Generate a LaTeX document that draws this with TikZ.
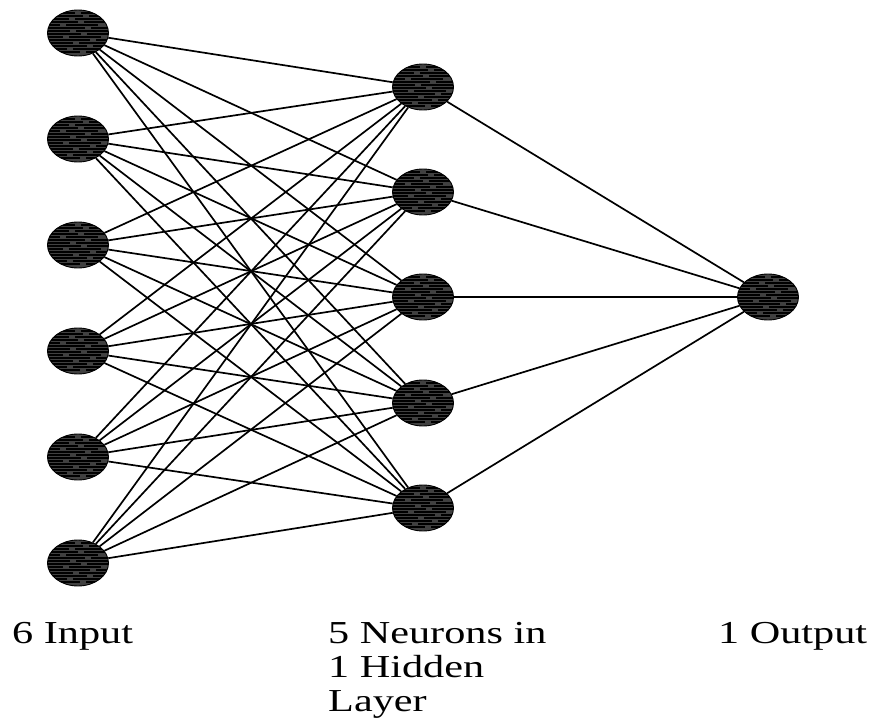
\documentclass[tikz,border=0pt]{standalone}
\usepackage{fontspec}
\setmainfont{Liberation Serif}
\newfontfamily\lblfont[FakeStretch=1.32]{Liberation Serif}
\usetikzlibrary{shapes.geometric}
\tikzset{
  neuron/.style={ellipse, draw=black, line width=0.9pt, fill=black!75,
    minimum width=61pt, minimum height=46pt, inner sep=0pt,
    path picture={
      \foreach \yy/\g in {-19/5,-16/-8,-13/12,-10/-2,-7/15,-4/-12,-1/6,2/-5,5/10,8/-15,11/3,14/-6,17/8,20/0}{
        \draw[black, line width=1.3pt]
          ([xshift=-32pt, yshift=\yy pt]path picture bounding box.center) -- ++(32pt+\g pt-3pt,0pt)
          ([xshift=\g pt+3pt, yshift=\yy pt]path picture bounding box.center) -- ++(32pt,0pt);
      }
    }},
  conn/.style={line width=1.7pt, black},
  lbl/.style={font=\lblfont\fontsize{32}{34}\selectfont, anchor=base west, inner sep=0pt, align=left}
}
\begin{document}
\begin{tikzpicture}[x=1pt,y=-1pt]
\useasboundingbox (0,0) rectangle (870,719);
% input layer
\node[neuron] (i1) at (78,33) {};
\node[neuron] (i2) at (78,139) {};
\node[neuron] (i3) at (78,245) {};
\node[neuron] (i4) at (78,351) {};
\node[neuron] (i5) at (78,457) {};
\node[neuron] (i6) at (78,563) {};
% hidden layer
\node[neuron] (h1) at (423,87) {};
\node[neuron] (h2) at (423,192) {};
\node[neuron] (h3) at (423,297) {};
\node[neuron] (h4) at (423,403) {};
\node[neuron] (h5) at (423,508) {};
% output
\node[neuron] (o1) at (768,297) {};
% connections
\foreach \i in {1,...,6}{
  \foreach \h in {1,...,5}{
    \draw[conn] (i\i) -- (h\h);
  }
}
\foreach \h in {1,...,5}{
  \draw[conn] (h\h) -- (o1);
}
% labels
\node[lbl] (lin) at (12,643) {6 Input};
\node[lbl] (lhid) at (328,711) {5 Neurons in\\1 Hidden\\Layer};
\node[lbl] (lout) at (718,643) {1 Output};
\end{tikzpicture}
\end{document}
